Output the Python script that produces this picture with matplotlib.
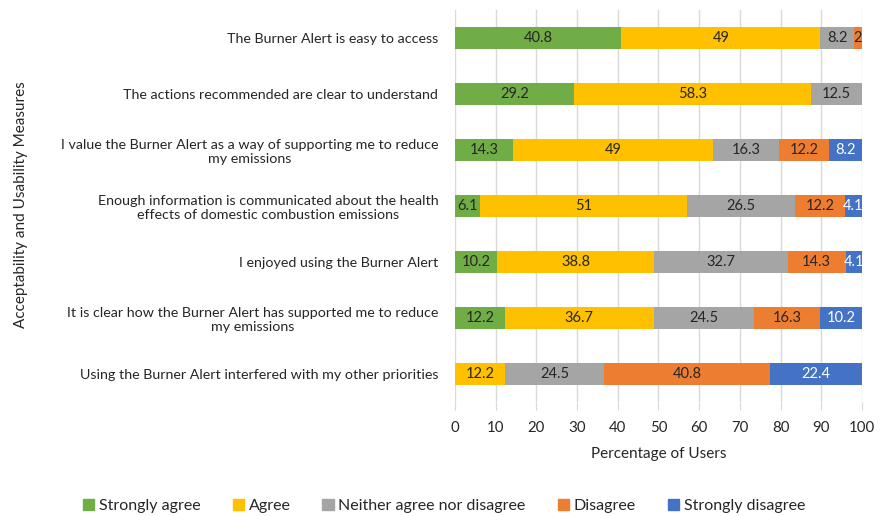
import numpy as np
import matplotlib
matplotlib.use('Agg')
import matplotlib.pyplot as plt
from matplotlib.patches import Patch

plt.rcParams['font.family'] = ['Lato', 'DejaVu Sans']

# categories top to bottom
labels = ['The Burner Alert is easy to access',
          'The actions recommended are clear to understand',
          'I value the Burner Alert as a way of supporting me to reduce\nmy emissions',
          'Enough information is communicated about the health\neffects of domestic combustion emissions',
          'I enjoyed using the Burner Alert',
          'It is clear how the Burner Alert has supported me to reduce\nmy emissions',
          'Using the Burner Alert interfered with my other priorities']

series = ['Strongly agree', 'Agree', 'Neither agree nor disagree', 'Disagree', 'Strongly disagree']
strongly_agree    = [40.8, 29.2, 14.3, 6.1, 10.2, 12.2, 0]
agree             = [49, 58.3, 49, 51, 38.8, 36.7, 12.2]
neither           = [8.2, 12.5, 16.3, 26.5, 32.7, 24.5, 24.5]
disagree          = [2, 0, 12.2, 12.2, 14.3, 16.3, 40.8]
strongly_disagree = [0, 0, 8.2, 4.1, 4.1, 10.2, 22.4]

colors = ['#70ad47', '#ffc000', '#a5a5a5', '#ed7d31', '#4472c4']
txtcol = ['#262626', '#262626', '#262626', '#262626', 'white']

fig = plt.figure(figsize=(8.87, 5.16), dpi=100)
ax = fig.add_axes([455/887, 1-402/516, (862-455)/887, (402-10)/516])

y = np.arange(len(labels))
left = np.zeros(len(labels))
data = [strongly_agree, agree, neither, disagree, strongly_disagree]
for vals, c, tc, name in zip(data, colors, txtcol, series):
    vals = np.array(vals, dtype=float)
    bars = ax.barh(y, vals, left=left, height=0.4, color=c, label=name, zorder=3)
    for b, v in zip(bars, vals):
        if v > 0:
            ax.text(b.get_x() + b.get_width()/2, b.get_y() + b.get_height()/2,
                    ('%g' % v), ha='center', va='center', fontsize=10.5, color=tc, zorder=4)
    left += vals

ax.set_xlim(0, 100)
ax.set_ylim(len(labels)-0.5, -0.5)
ax.set_xticks(np.arange(0, 101, 10))
ax.set_yticks(y)
ax.set_yticklabels(labels, fontsize=10.3, multialignment='center', color='#262626')
ax.tick_params(axis='y', length=0, pad=12)
ax.tick_params(axis='x', length=6, color='#d9d9d9', labelsize=10.8, labelcolor='#262626', pad=8)
ax.grid(axis='x', color='#d9d9d9', linewidth=1, zorder=0)
for s in ['top', 'right', 'bottom', 'left']:
    ax.spines[s].set_visible(False)
ax.set_xlabel('Percentage of Users', fontsize=11, color='#262626', labelpad=8)
fig.text(21/887, 1-205/516, 'Acceptability and Usability Measures', rotation=90,
         ha='center', va='center', fontsize=11, color='#262626')

handles = [Patch(color=c, label=n) for c, n in zip(colors, series)]
fig.legend(handles=handles, loc='center', bbox_to_anchor=(444/887, 1-506/516), ncol=5,
           frameon=False, fontsize=11.5, handlelength=0.7, handleheight=0.7,
           handletextpad=0.3, columnspacing=2.0, labelcolor='#262626')

fig.savefig('out.png', dpi=100)
